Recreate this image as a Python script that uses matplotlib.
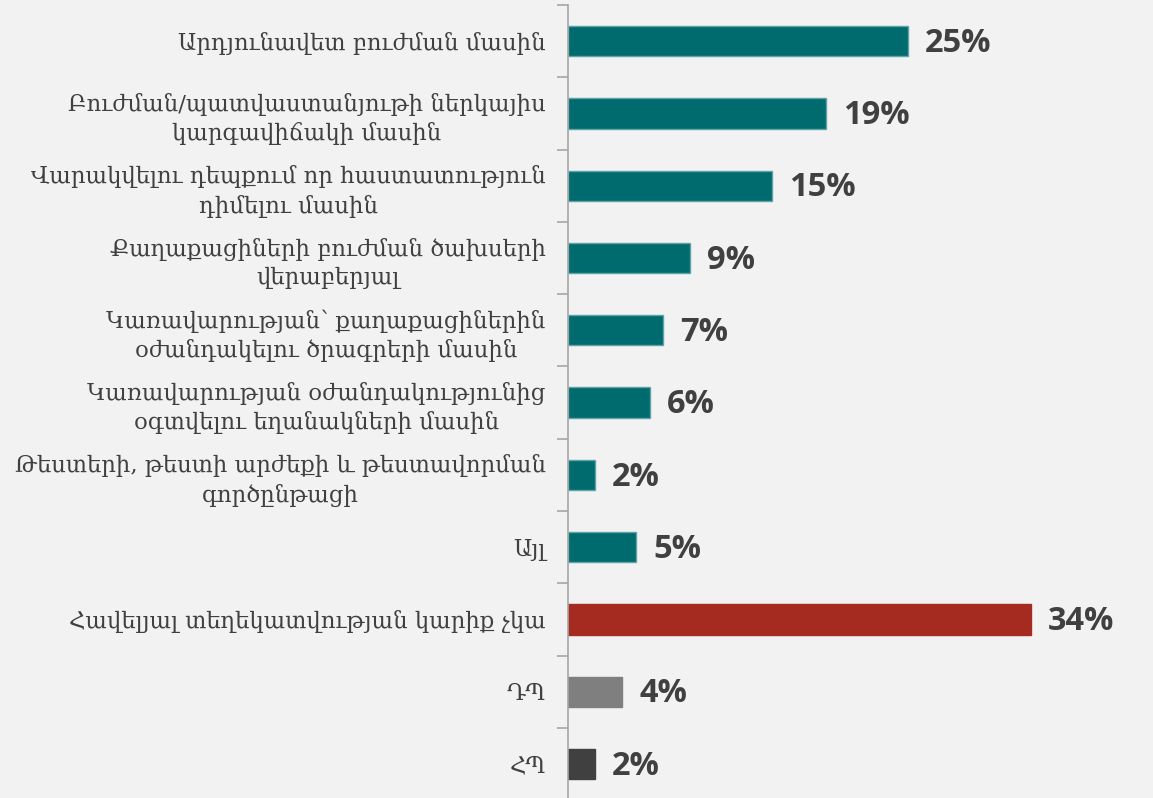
import numpy as np
import matplotlib.pyplot as plt
from matplotlib.ticker import FixedLocator

# categories (top to bottom) and their shares in percent
labels = [
    "Արդյունավետ բուժման մասին",
    "Բուժման/պատվաստանյութի ներկայիս\nկարգավիճակի մասին",
    "Վարակվելու դեպքում որ հաստատություն\nդիմելու մասին",
    "Քաղաքացիների բուժման ծախսերի\nվերաբերյալ",
    "Կառավարության՝ քաղաքացիներին\nօժանդակելու ծրագրերի մասին",
    "Կառավարության օժանդակությունից\nօգտվելու եղանակների մասին",
    "Թեստերի, թեստի արժեքի և թեստավորման\nգործընթացի",
    "Այլ",
    "Հավելյալ տեղեկատվության կարիք չկա",
    "ԴՊ",
    "ՀՊ",
]
values = [25, 19, 15, 9, 7, 6, 2, 5, 34, 4, 2]

teal = "#006b6f"
colors = [teal] * 8 + ["#a52a20", "#7f7f7f", "#404040"]
edges = ["#5fa3a6"] * 8 + ["#a52a20", "#7f7f7f", "#404040"]

bg = "#f2f2f2"
text_color = "#404040"


def main():
    fig = plt.figure(figsize=(11.53, 7.98), dpi=100, facecolor=bg)
    ax = fig.add_axes([568 / 1153, 0, 1 - 568 / 1153, 1 - 5 / 798])
    ax.set_facecolor(bg)

    y = np.arange(len(labels))
    ax.barh(y, values, height=0.42, color=colors, edgecolor=edges, linewidth=1)

    for yi, v in zip(y, values):
        ax.text(v + 1.25, yi + 0.03, f"{v}%", va="center", ha="left",
                fontsize=23.5, fontweight="bold", color=text_color,
                family=["Open Sans", "DejaVu Sans"])

    ax.set_xlim(0, 43)
    ax.set_ylim(10.47, -0.5)

    ax.set_yticks(y)
    ax.set_yticklabels(labels, fontsize=16.4, color=text_color,
                       family=["DejaVu Serif", "DejaVu Sans"],
                       linespacing=1.35, ha="right", multialignment="center")
    ax.yaxis.set_minor_locator(FixedLocator(np.arange(-0.5, len(labels), 1)))
    ax.tick_params(axis="y", which="major", length=0, pad=16)
    ax.tick_params(axis="y", which="minor", length=8, width=1.2,
                   color="#a6a6a6", direction="out")
    ax.set_xticks([])

    for s in ["top", "right", "bottom"]:
        ax.spines[s].set_visible(False)
    ax.spines["left"].set_color("#a6a6a6")
    ax.spines["left"].set_linewidth(1.2)

    fig.savefig("out.png", dpi=100, facecolor=bg)


if __name__ == "__main__":
    main()
